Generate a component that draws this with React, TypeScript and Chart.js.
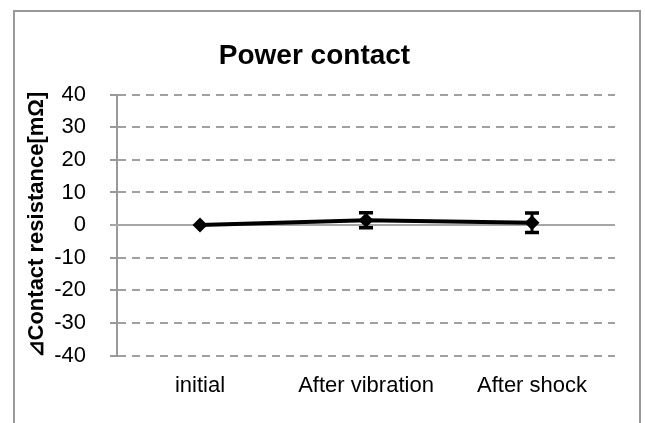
import React, { useEffect, useRef } from "react";
import { Chart, registerables } from "chart.js";

Chart.register(...registerables);

const categories = ["initial", "After vibration", "After shock"];
const values = [0, 1.5, 0.7];
const errors = [0, 2.3, 3.0];
const yTicks = [-40, -30, -20, -10, 0, 10, 20, 30, 40];
const titleText = "Power contact";
const yTitle = "⊿Contact resistance[mΩ]";

const FONT = "'Liberation Sans', Arial, sans-serif";

const framePlugin = {
  id: "frame",
  beforeDraw(chart: any) {
    const ctx = chart.ctx;
    ctx.save();
    ctx.fillStyle = "#ffffff";
    ctx.fillRect(0, 0, chart.width, chart.height);
    ctx.strokeStyle = "#999999";
    ctx.lineWidth = 2;
    ctx.strokeRect(14, 11, 626, 440);
    ctx.restore();
  },
};

const zeroLinePlugin = {
  id: "zeroLine",
  beforeDatasetsDraw(chart: any) {
    const y = chart.scales.y;
    const area = chart.chartArea;
    const py = y.getPixelForValue(0);
    const ctx = chart.ctx;
    ctx.save();
    ctx.strokeStyle = "#a6a6a6";
    ctx.lineWidth = 2;
    ctx.setLineDash([]);
    ctx.beginPath();
    ctx.moveTo(area.left - 6, py);
    ctx.lineTo(area.right, py);
    ctx.stroke();
    ctx.restore();
  },
};

const errorBarPlugin = {
  id: "errorBars",
  afterDatasetsDraw(chart: any) {
    const xs = chart.scales.x;
    const ys = chart.scales.y;
    const ctx = chart.ctx;
    ctx.save();
    ctx.strokeStyle = "#000000";
    ctx.setLineDash([]);
    values.forEach((v, i) => {
      const e = errors[i];
      if (!e) return;
      const x = xs.getPixelForValue(i);
      const yTop = ys.getPixelForValue(v + e);
      const yBot = ys.getPixelForValue(v - e);
      ctx.lineWidth = 3;
      ctx.beginPath();
      ctx.moveTo(x, yTop);
      ctx.lineTo(x, yBot);
      ctx.stroke();
      ctx.lineWidth = 3.5;
      ctx.beginPath();
      ctx.moveTo(x - 7, yTop);
      ctx.lineTo(x + 7, yTop);
      ctx.moveTo(x - 7, yBot);
      ctx.lineTo(x + 7, yBot);
      ctx.stroke();
    });
    ctx.restore();
  },
};

export default function App() {
  const ref = useRef<HTMLCanvasElement | null>(null);

  useEffect(() => {
    if (!ref.current) return;
    const chart = new Chart(ref.current, {
      type: "line",
      data: {
        labels: categories,
        datasets: [
          {
            data: values,
            borderColor: "#000000",
            backgroundColor: "#000000",
            borderWidth: 4,
            pointStyle: "rectRot",
            pointRadius: 7.5,
            pointBorderWidth: 0,
            pointBackgroundColor: "#000000",
            tension: 0,
          },
        ],
      },
      options: {
        animation: false,
        responsive: false,
        maintainAspectRatio: false,
        layout: { padding: { left: 14, right: 30, top: 12, bottom: 7 } },
        plugins: {
          legend: { display: false },
          tooltip: { enabled: false },
          title: {
            display: true,
            text: titleText,
            color: "#000000",
            font: { family: FONT, size: 28, weight: "bold" },
            padding: { top: 27, bottom: 22 },
          },
        },
        scales: {
          x: {
            type: "category",
            offset: true,
            grid: { display: false, drawTicks: false },
            border: { display: false },
            ticks: {
              color: "#000000",
              font: { family: FONT, size: 22 },
              padding: 17,
              maxRotation: 0,
              autoSkip: false,
            },
          },
          y: {
            min: -40,
            max: 40,
            afterBuildTicks: (scale: any) => {
              scale.ticks = yTicks.map((v) => ({ value: v }));
            },
            afterFit: (scale: any) => {
              scale.width = 103;
            },
            grid: {
              color: "#a0a0a0",
              lineWidth: 2,
              tickLength: 7,
              tickColor: "#999999",
              tickWidth: 2,
              tickBorderDash: [1, 0],
            },
            border: { display: true, color: "#999999", width: 2, dash: [8, 6] },
            title: {
              display: true,
              text: yTitle,
              color: "#000000",
              font: { family: FONT, size: 22, weight: "bold" },
              padding: { top: 10, bottom: 0 },
            },
            ticks: {
              color: "#000000",
              font: { family: FONT, size: 22 },
              padding: 24,
            },
          },
        },
      },
      plugins: [framePlugin, zeroLinePlugin, errorBarPlugin],
    });
    return () => chart.destroy();
  }, []);

  return (
    <div style={{ position: "absolute", left: 0, top: 0, width: 645, height: 423 }}>
      <canvas ref={ref} width={645} height={423} style={{ display: "block", width: 645, height: 423 }} />
    </div>
  );
}
